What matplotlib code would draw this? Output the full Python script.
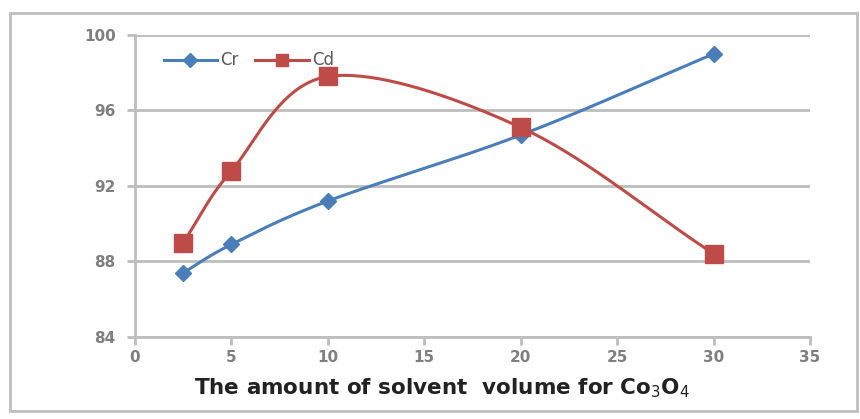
import numpy as np
import matplotlib
matplotlib.use("Agg")
import matplotlib.pyplot as plt
from matplotlib.patches import Rectangle
from matplotlib import font_manager

x_vals = [2.5, 5, 10, 20, 30]
cr_vals = [87.4, 88.9, 91.2, 94.7, 99.0]
cd_vals = [89.0, 92.8, 97.8, 95.1, 88.4]
x_ticks = [0, 5, 10, 15, 20, 25, 30, 35]
y_ticks = [84, 88, 92, 96, 100]


def smooth(xs, ys, n=40):
    # Catmull-Rom style smoothing, similar to Excel's smoothed line
    xs = np.asarray(xs, float)
    ys = np.asarray(ys, float)
    px = np.concatenate([[2 * xs[0] - xs[1]], xs, [2 * xs[-1] - xs[-2]]])
    py = np.concatenate([[2 * ys[0] - ys[1]], ys, [2 * ys[-1] - ys[-2]]])
    ox, oy = [], []
    t = np.linspace(0, 1, n)
    for i in range(1, len(px) - 2):
        p0, p1, p2, p3 = (np.array([px[j], py[j]]) for j in range(i - 1, i + 3))
        c1 = p1 + (p2 - p0) / 6
        c2 = p2 - (p3 - p1) / 6
        b = ((1 - t) ** 3)[:, None] * p1 + (3 * (1 - t) ** 2 * t)[:, None] * c1 \
            + (3 * (1 - t) * t ** 2)[:, None] * c2 + (t ** 3)[:, None] * p2
        ox.extend(b[:, 0])
        oy.extend(b[:, 1])
    return np.array(ox), np.array(oy)


names = {f.name for f in font_manager.fontManager.ttflist}
label_family = [n for n in ["Liberation Sans Narrow", "DejaVu Sans Condensed"] if n in names] + ["DejaVu Sans"]

fig = plt.figure(figsize=(8.6, 4.19), dpi=100)
fig.patches.append(Rectangle((0.012, 0.02), 0.985, 0.95, transform=fig.transFigure,
                             fill=False, edgecolor="#BFBFBF", lw=2))
ax = fig.add_axes([0.157, 0.196, 0.785, 0.7205])

blue = "#4A7EBB"
red = "#BE4B48"

sx, sy = smooth(x_vals, cr_vals)
ax.plot(sx, sy, color=blue, lw=2.2, zorder=3)
ax.plot(x_vals, cr_vals, ls="none", marker="D", ms=8.5, color=blue, zorder=4)
sx, sy = smooth(x_vals, cd_vals)
ax.plot(sx, sy, color=red, lw=2.2, zorder=3)
ax.plot(x_vals, cd_vals, ls="none", marker="s", ms=12.5, color=red, zorder=4)

ax.plot([], [], color=blue, lw=2.2, marker="D", ms=7, label="Cr")
ax.plot([], [], color=red, lw=2.2, marker="s", ms=9, label="Cd")

ax.set_xlim(0, 35)
ax.set_ylim(84, 100)
ax.set_xticks(x_ticks)
ax.set_yticks(y_ticks)
ax.grid(axis="y", color="#BDBDBD", lw=2)
ax.set_axisbelow(True)
for s in ["top", "right"]:
    ax.spines[s].set_visible(False)
for s in ["left", "bottom"]:
    ax.spines[s].set_color("#BDBDBD")
    ax.spines[s].set_linewidth(2)
ax.tick_params(axis="both", colors="#BDBDBD", width=2, length=6)
ax.tick_params(labelcolor="#7F7F7F", labelsize=11)
ax.tick_params(axis="y", pad=8)
for lab in ax.get_xticklabels() + ax.get_yticklabels():
    lab.set_fontweight("bold")

ax.set_xlabel("The amount of solvent  volume for Co$_3$O$_4$",
              fontsize=15.5, fontweight="bold", color="#222222",
              family=label_family)
ax.xaxis.set_label_coords(0.455, -0.13)

leg = ax.legend(loc="upper left", bbox_to_anchor=(0.02, 0.995), ncol=2, frameon=False,
                fontsize=12, handlelength=3.2, columnspacing=1.0, handletextpad=0.2)
for t in leg.get_texts():
    t.set_color("#595959")

fig.savefig("out.png", dpi=100)
